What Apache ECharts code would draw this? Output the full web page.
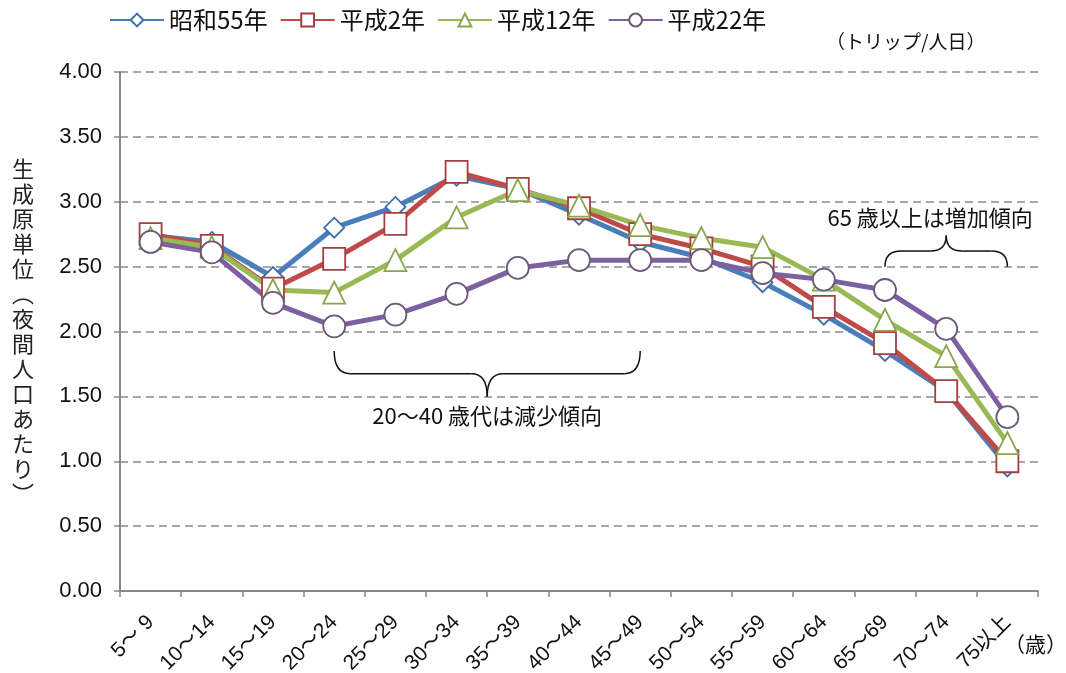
<!DOCTYPE html>
<html>
<head>
<meta charset="utf-8">
<script src="https://cdn.jsdelivr.net/npm/echarts@6/dist/echarts.min.js"></script>
<style>
  html, body { margin: 0; padding: 0; background: #fff; }
  #main { width: 1066px; height: 673px; }
</style>
</head>
<body>
<div id="main"></div>
<script>
// 年齢階層
var ageGroups = ['5～ 9', '10～14', '15～19', '20～24', '25～29', '30～34', '35～39',
  '40～44', '45～49', '50～54', '55～59', '60～64', '65～69', '70～74', '75以上'];
var yTicks = [0, 0.5, 1, 1.5, 2, 2.5, 3, 3.5, 4];

// 生成原単位（トリップ/人日）
var s55 = [2.74, 2.69, 2.42, 2.80, 2.96, 3.20, 3.10, 2.90, 2.69, 2.57, 2.38, 2.13, 1.85, 1.54, 0.96];
var h2  = [2.75, 2.66, 2.33, 2.56, 2.83, 3.23, 3.10, 2.95, 2.75, 2.64, 2.50, 2.19, 1.91, 1.54, 1.00];
var h12 = [2.72, 2.65, 2.32, 2.30, 2.55, 2.88, 3.09, 2.97, 2.82, 2.72, 2.65, 2.40, 2.09, 1.81, 1.14];
var h22 = [2.69, 2.61, 2.22, 2.04, 2.13, 2.29, 2.49, 2.55, 2.55, 2.55, 2.45, 2.40, 2.32, 2.02, 1.34];

var font = '"Noto Sans CJK JP", "Liberation Sans", sans-serif';
var myChart = echarts.init(document.getElementById('main'));

function mkSeries(name, data, color, border, symbol, size) {
  return {
    name: name,
    type: 'line',
    data: data,
    symbol: symbol,
    symbolSize: size,
    showAllSymbol: true,
    lineStyle: { color: color, width: 5 },
    itemStyle: { color: '#fff', borderColor: border, borderWidth: 1.8 },
    emphasis: { disabled: true },
    z: 2
  };
}

var option = {
  backgroundColor: '#fff',
  animation: false,
  textStyle: { fontFamily: font },
  legend: {
    left: 104,
    top: 3,
    itemWidth: 54,
    itemHeight: 16,
    itemGap: 12,
    textStyle: { fontSize: 24, color: '#111', fontFamily: font },
    data: ['昭和55年', '平成2年', '平成12年', '平成22年']
  },
  grid: { left: 120, right: 28, top: 72, bottom: 82, containLabel: false, outerBoundsMode: 'none' },
  xAxis: {
    type: 'category',
    data: ageGroups,
    boundaryGap: true,
    axisLine: { lineStyle: { color: '#888', width: 2 } },
    axisTick: { show: true, length: 6, lineStyle: { color: '#888', width: 1.5 } },
    axisLabel: { rotate: 45, fontSize: 21, color: '#111', margin: 28, interval: 0, fontFamily: '"Liberation Sans", "Noto Sans CJK JP", sans-serif' }
  },
  yAxis: {
    type: 'value',
    min: yTicks[0],
    max: yTicks[yTicks.length - 1],
    interval: 0.5,
    name: '生\n成\n原\n単\n位\n︵\n夜\n間\n人\n口\nあ\nた\nり\n︶',
    nameLocation: 'middle',
    nameRotate: 0,
    nameGap: 86,
    nameTextStyle: { fontSize: 22, color: '#222', lineHeight: 25, fontFamily: font },
    axisLine: { show: true, lineStyle: { color: '#888', width: 2 } },
    axisTick: { show: true, length: 6, lineStyle: { color: '#888', width: 1.5 } },
    axisLabel: {
      fontSize: 22, color: '#111', margin: 18, fontFamily: '"Liberation Sans", sans-serif',
      formatter: function (v) { return v.toFixed(2); }
    },
    splitLine: { show: true, lineStyle: { color: '#8a8a8a', type: [8, 5], width: 1.5 } }
  },
  series: [
    mkSeries('昭和55年', s55, '#4A7EBB', '#3f6fa8', 'diamond', 20),
    mkSeries('平成2年', h2, '#BE4B48', '#a04040', 'rect', 22),
    mkSeries('平成12年', h12, '#98B954', '#8aa54c', 'triangle', 22),
    mkSeries('平成22年', h22, '#7D60A0', '#6b5a78', 'circle', 22)
  ]
};

myChart.setOption(option);

// 注記（波括弧）をデータ座標から配置
function px(cat, val) {
  return myChart.convertToPixel({ xAxisIndex: 0, yAxisIndex: 0 }, [cat, val]);
}
function brace(x1, x2, yEnd, yTip) {
  var yMid = (yEnd + yTip) / 2;
  var xc = (x1 + x2) / 2;
  var r = 16;
  var st = { fill: null, stroke: '#111', lineWidth: 1.5 };
  var curve = function (ax, ay, bx, by, cx, cy) {
    return { type: 'bezierCurve', shape: { x1: ax, y1: ay, x2: bx, y2: by, cpx1: cx, cpy1: cy }, style: st };
  };
  var line = function (ax, ay, bx, by) {
    return { type: 'line', shape: { x1: ax, y1: ay, x2: bx, y2: by }, style: st };
  };
  return {
    type: 'group', z: 10,
    children: [
      curve(x1, yEnd, x1 + r, yMid, x1, yMid),
      line(x1 + r, yMid, xc - r, yMid),
      curve(xc - r, yMid, xc, yTip, xc, yMid),
      curve(xc, yTip, xc + r, yMid, xc, yMid),
      line(xc + r, yMid, x2 - r, yMid),
      curve(x2 - r, yMid, x2, yEnd, x2, yMid)
    ]
  };
}

var a1 = px(ageGroups[3], 1.85), a2 = px(ageGroups[8], 1.85), aTip = px(ageGroups[3], 1.50);
var t1 = px(ageGroups[3], 1.35);
var b1 = px(ageGroups[12], 2.50), b2 = px(ageGroups[14], 2.50), bTip = px(ageGroups[12], 2.74);
var t2 = px(ageGroups[12], 2.88);

myChart.setOption({
  graphic: [
    brace(a1[0], a2[0], a1[1], aTip[1]),
    {
      type: 'text', z: 10,
      x: (a1[0] + a2[0]) / 2, y: t1[1],
      style: { text: '20～40 歳代は減少傾向', font: '22px ' + font, fill: '#111', align: 'center', verticalAlign: 'middle' }
    },
    brace(b1[0], b2[0], b1[1], bTip[1]),
    {
      type: 'text', z: 10,
      x: (b1[0] + b2[0]) / 2 - 16, y: t2[1],
      style: { text: '65 歳以上は増加傾向', font: '22px ' + font, fill: '#111', align: 'center', verticalAlign: 'middle' }
    },
    {
      type: 'text', z: 10,
      x: 826, y: 32,
      style: { text: '（トリップ/人日）', font: '19px ' + font, fill: '#111' }
    },
    {
      type: 'text', z: 10,
      x: 1004, y: 634,
      style: { text: '（歳）', font: '21px ' + font, fill: '#111' }
    }
  ]
});
</script>
</body>
</html>
